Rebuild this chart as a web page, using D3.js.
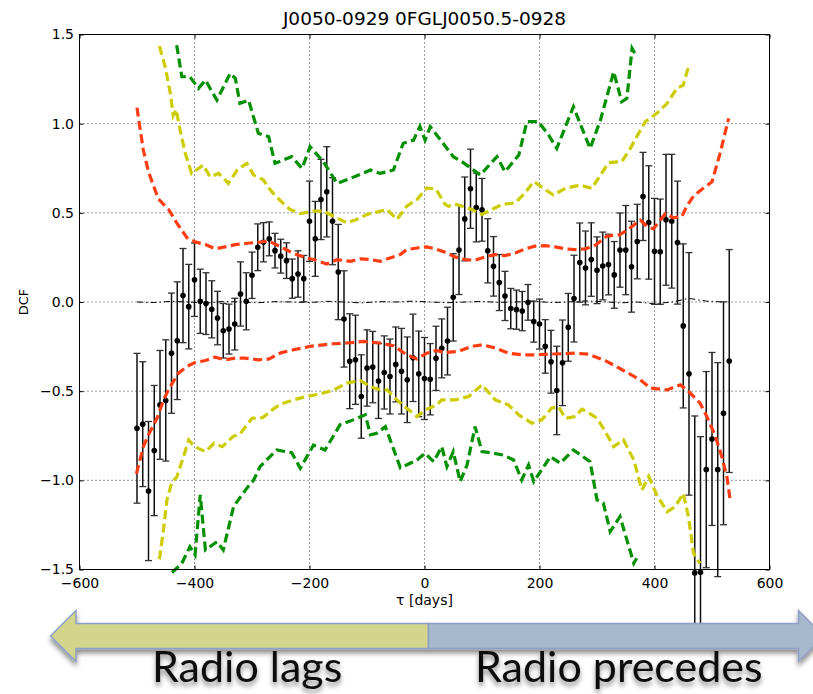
<!DOCTYPE html>
<html>
<head>
<meta charset="utf-8">
<script src="https://cdn.jsdelivr.net/npm/d3@7"></script>
<style>
  body { margin: 0; background: #fff; }
  svg { display: block; }
</style>
</head>
<body>
<svg id="chart" width="813" height="694"></svg>
<script>
// ---- Discrete correlation function: lag (days), DCF value, 1-sigma error ----
const lags = [-500,-490,-480,-470,-460,-450,-440,-430,-420,-410,-400,-390,-380,-370,-360,-350,-340,-330,-320,-310,
  -300,-290,-280,-270,-260,-250,-240,-230,-220,-210,-200,-190,-180,-170,-160,-150,-140,-130,-120,-110,
  -100,-90,-80,-70,-60,-50,-40,-30,-20,-10,0,10,20,30,40,50,60,70,80,90,
  100,110,120,130,140,150,160,170,180,190,200,210,220,230,240,250,260,270,280,290,
  300,310,320,330,340,350,360,370,380,390,400,410,420,430,440,450,460,470,480,490,
  500,510,520,530];

const dcf = [-0.708,-0.685,-1.06,-0.833,-0.577,-0.552,-0.287,-0.217,0.036,-0.026,
  0.125,0.004,-0.009,-0.041,-0.09,-0.161,-0.152,-0.124,0.045,0.004,
  0.15,0.307,0.335,0.354,0.288,0.257,0.232,0.131,0.157,0.131,
  0.453,0.354,0.575,0.618,0.453,0.168,-0.095,-0.332,-0.324,-0.53,
  -0.37,-0.365,-0.443,-0.395,-0.418,-0.35,-0.388,-0.436,-0.313,-0.403,
  -0.429,-0.433,-0.316,-0.26,-0.219,0.026,0.292,0.466,0.635,0.53,
  0.517,0.287,0.2,0.109,0.034,-0.037,-0.043,-0.051,-0.002,-0.11,
  -0.124,-0.249,-0.335,-0.496,-0.341,-0.142,0.019,0.221,0.191,0.238,
  0.178,0.202,0.21,0.152,0.291,0.291,0.198,0.339,0.592,0.446,
  0.284,0.282,0.461,0.453,0.333,-0.134,-0.403,-1.519,-1.515,-0.94,
  -0.768,-0.94,-0.624,-0.331];

const dcfErr = [0.42,0.35,0.39,0.365,0.305,0.34,0.337,0.33,0.264,0.237,
  0.206,0.18,0.173,0.16,0.15,0.153,0.14,0.145,0.18,0.16,
  0.13,0.131,0.11,0.095,0.097,0.095,0.1,0.11,0.13,0.13,
  0.225,0.21,0.225,0.253,0.244,0.267,0.27,0.266,0.25,0.234,
  0.214,0.2,0.21,0.205,0.21,0.21,0.24,0.24,0.245,0.24,
  0.23,0.2,0.18,0.165,0.19,0.245,0.25,0.235,0.222,0.193,
  0.176,0.18,0.167,0.157,0.138,0.113,0.11,0.11,0.1,0.115,
  0.14,0.15,0.176,0.248,0.24,0.19,0.243,0.222,0.207,0.206,
  0.187,0.19,0.17,0.187,0.208,0.25,0.255,0.209,0.247,0.318,
  0.297,0.295,0.367,0.375,0.345,0.46,0.68,0.88,0.76,0.55,
  0.485,0.6,0.625,0.625];

// ---- Significance levels from simulated light curves: [lag, DCF] ----
const sig1Upper = [[-500,1.09],[-496,1.0],[-489,0.852],[-480,0.73],[-463,0.578],[-445,0.519],[-431,0.444],[-413,0.36],
  [-399,0.337],[-381,0.322],[-364,0.298],[-347,0.309],[-329,0.322],[-312,0.328],[-289,0.335],[-271,0.341],[-251,0.311],
  [-228,0.272],[-205,0.247],[-193,0.238],[-170,0.213],[-152,0.238],[-129,0.228],[-112,0.242],[-94,0.238],[-77,0.228],
  [-60,0.247],[-42,0.266],[-31,0.294],[-13,0.303],[4,0.309],[20,0.297],[36,0.279],[53,0.253],[71,0.238],[88,0.234],
  [106,0.253],[123,0.266],[140,0.26],[158,0.275],[175,0.298],[192,0.313],[210,0.316],[227,0.309],[245,0.298],[262,0.294],
  [280,0.298],[298,0.32],[317,0.369],[340,0.378],[358,0.416],[375,0.459],[387,0.425],[398,0.41],[419,0.496],[433,0.472],
  [448,0.481],[456,0.537],[468,0.594],[482,0.631],[500,0.674],[514,0.833],[529,1.03]];

const sig1Lower = [[-501,-0.964],[-489,-0.811],[-480,-0.745],[-465,-0.65],[-454,-0.55],[-445,-0.49],[-428,-0.399],
  [-413,-0.361],[-399,-0.339],[-381,-0.328],[-364,-0.309],[-347,-0.324],[-329,-0.315],[-312,-0.315],[-289,-0.324],
  [-271,-0.32],[-250,-0.285],[-228,-0.268],[-199,-0.249],[-176,-0.24],[-158,-0.234],[-135,-0.23],[-106,-0.221],
  [-77,-0.23],[-54,-0.245],[-31,-0.296],[-13,-0.32],[4,-0.287],[20,-0.272],[36,-0.283],[59,-0.277],[82,-0.249],
  [100,-0.24],[123,-0.258],[146,-0.287],[169,-0.296],[193,-0.296],[216,-0.292],[239,-0.29],[262,-0.287],[286,-0.293],
  [317,-0.333],[346,-0.384],[375,-0.436],[393,-0.483],[422,-0.493],[445,-0.464],[462,-0.51],[479,-0.566],[491,-0.642],
  [506,-0.754],[517,-0.867],[526,-0.98],[532,-1.12]];

const sig2Upper = [[-461,1.435],[-451,1.319],[-442,1.17],[-437,1.045],[-432,1.08],[-425,0.964],[-416,0.833],[-405,0.721],
  [-385,0.768],[-373,0.702],[-358,0.721],[-341,0.665],[-326,0.74],[-309,0.777],[-297,0.712],[-280,0.684],[-271,0.64],
  [-263,0.609],[-248,0.56],[-234,0.519],[-216,0.496],[-193,0.51],[-176,0.51],[-158,0.481],[-135,0.444],[-118,0.463],
  [-100,0.491],[-83,0.504],[-65,0.519],[-48,0.463],[-31,0.537],[-13,0.575],[4,0.64],[20,0.633],[36,0.547],[42,0.537],
  [53,0.55],[82,0.519],[100,0.491],[117,0.519],[135,0.547],[158,0.556],[175,0.612],[190,0.676],[207,0.637],[224,0.6],
  [245,0.637],[270,0.656],[291,0.637],[320,0.781],[343,0.787],[358,0.861],[369,0.927],[384,1.011],[404,1.058],
  [422,1.114],[439,1.198],[450,1.216],[459,1.319]];

const sig2Lower = [[-461,-1.443],[-454,-1.278],[-448,-1.11],[-439,-1.007],[-431,-0.983],[-420,-0.876],[-410,-0.774],
  [-400,-0.811],[-381,-0.839],[-366,-0.792],[-352,-0.811],[-333,-0.755],[-320,-0.736],[-300,-0.652],[-281,-0.648],
  [-265,-0.605],[-250,-0.572],[-228,-0.549],[-205,-0.53],[-181,-0.515],[-158,-0.493],[-135,-0.455],[-112,-0.44],
  [-94,-0.474],[-77,-0.493],[-65,-0.493],[-48,-0.549],[-31,-0.596],[-13,-0.642],[4,-0.601],[20,-0.58],[30,-0.549],
  [53,-0.549],[77,-0.53],[100,-0.464],[123,-0.549],[146,-0.577],[164,-0.633],[187,-0.68],[204,-0.661],[221,-0.596],
  [233,-0.586],[245,-0.652],[262,-0.642],[274,-0.601],[291,-0.633],[300,-0.652],[311,-0.708],[329,-0.811],[346,-0.773],
  [364,-0.886],[378,-1.054],[390,-0.979],[404,-1.082],[422,-1.176],[436,-1.148],[450,-1.073],[459,-1.204],[468,-1.41],
  [479,-1.466]];

const sig3Upper = [[-431,1.44],[-422,1.263],[-408,1.263],[-393,1.198],[-381,1.244],[-361,1.132],[-338,1.282],[-329,1.254],
  [-321,1.114],[-306,1.132],[-289,0.946],[-271,0.927],[-260,0.777],[-231,0.815],[-213,0.749],[-199,0.871],[-176,0.787],
  [-152,0.665],[-129,0.693],[-94,0.74],[-77,0.721],[-54,0.74],[-37,0.89],[-19,0.908],[-8,0.985],[1,0.908],[10,0.983],
  [30,0.9],[50,0.815],[65,0.787],[97,0.712],[126,0.815],[140,0.731],[164,0.824],[178,1.011],[198,1.011],[216,0.936],
  [230,0.861],[259,1.095],[288,0.861],[306,1.02],[329,1.291],[343,1.123],[352,1.142],[361,1.422],[369,1.375]];

const sig3Lower = [[-439,-1.517],[-422,-1.465],[-408,-1.372],[-399,-1.418],[-390,-1.082],[-381,-1.39],[-361,-1.344],
  [-350,-1.39],[-332,-1.147],[-309,-1.044],[-297,-0.998],[-286,-0.923],[-257,-0.83],[-231,-0.845],[-216,-0.932],
  [-193,-0.802],[-173,-0.83],[-147,-0.689],[-124,-0.661],[-103,-0.633],[-94,-0.745],[-83,-0.736],[-68,-0.699],
  [-42,-0.93],[-13,-0.886],[1,-0.848],[16,-0.895],[30,-0.811],[39,-0.923],[50,-0.839],[62,-1.007],[74,-0.914],
  [88,-0.699],[100,-0.839],[120,-0.848],[137,-0.858],[155,-0.886],[169,-0.998],[181,-0.914],[190,-1.007],[219,-0.867],
  [236,-0.904],[259,-0.83],[288,-0.895],[300,-1.11],[311,-1.128],[323,-1.287],[340,-1.203],[352,-1.334],[364,-1.465],
  [369,-1.437]];

// mean of the simulated DCFs
const simMean = [[-500,0.0],[-470,-0.003],[-440,0.004],[-410,0.0],[-380,-0.006],[-350,0.003],[-320,0.0],[-290,-0.004],
  [-260,0.002],[-230,0.0],[-200,-0.003],[-170,0.004],[-140,0.0],[-110,-0.005],[-80,0.002],[-50,0.0],[-20,0.005],[10,0.0],
  [40,-0.004],[70,0.0],[100,0.003],[130,-0.002],[160,0.0],[190,0.004],[220,-0.003],[250,0.0],[280,0.006],[310,0.002],
  [340,-0.005],[370,0.0],[400,-0.01],[430,0.0],[460,0.02],[490,0.005],[520,0.0]];

const xTicks = [-600,-400,-200,0,200,400,600];
const yTicks = [-1.5,-1.0,-0.5,0.0,0.5,1.0,1.5];
const titleText = "J0050-0929 0FGLJ0050.5-0928";
const xLabel = "τ [days]";
const yLabel = "DCF";
const leftArrowText = "Radio lags";
const rightArrowText = "Radio precedes";

// ---- Layout ----
const plot = { left: 79.5, right: 769.5, top: 34.5, bottom: 569.5 };
const x = d3.scaleLinear().domain([-600, 600]).range([plot.left, plot.right]);
const y = d3.scaleLinear().domain([-1.5, 1.5]).range([plot.bottom, plot.top]);
const mplFont = "'DejaVu Sans', 'Bitstream Vera Sans', sans-serif";

const svg = d3.select("#chart");
const defs = svg.append("defs");
defs.append("clipPath").attr("id", "figClip")
  .append("rect").attr("x", 0).attr("y", 0).attr("width", 813).attr("height", 623);
const shadow = defs.append("filter").attr("id", "dropShadow")
  .attr("x", "-10%").attr("y", "-30%").attr("width", "120%").attr("height", "180%");
shadow.append("feDropShadow").attr("dx", 0).attr("dy", 4).attr("stdDeviation", 2.5)
  .attr("flood-color", "#000").attr("flood-opacity", 0.45);

const fig = svg.append("g").attr("clip-path", "url(#figClip)");

// grid
const grid = fig.append("g").attr("stroke", "#000").attr("stroke-width", 0.8)
  .attr("stroke-dasharray", "1,3");
grid.selectAll("line.gx").data(xTicks.slice(1, -1)).join("line").attr("class", "gx")
  .attr("x1", d => x(d)).attr("x2", d => x(d)).attr("y1", plot.top).attr("y2", plot.bottom);
grid.selectAll("line.gy").data(yTicks.slice(1, -1)).join("line").attr("class", "gy")
  .attr("y1", d => y(d)).attr("y2", d => y(d)).attr("x1", plot.left).attr("x2", plot.right);

const line = d3.line().x(d => x(d[0])).y(d => y(d[1]));

// simulated mean
fig.append("path").datum(simMean).attr("d", line).attr("fill", "none")
  .attr("stroke", "#000").attr("stroke-width", 1).attr("stroke-dasharray", "6,3,1.5,3");

// error bars + points
const pts = lags.map((l, i) => ({ lag: l, v: dcf[i], e: dcfErr[i] }));
const eb = fig.append("g");
eb.selectAll("line.bar").data(pts).join("line").attr("class", "bar")
  .attr("x1", d => x(d.lag)).attr("x2", d => x(d.lag))
  .attr("y1", d => y(d.v + d.e)).attr("y2", d => y(d.v - d.e))
  .attr("stroke", "#111").attr("stroke-width", 1.5);
eb.selectAll("line.capT").data(pts).join("line").attr("class", "capT")
  .attr("x1", d => x(d.lag) - 3.5).attr("x2", d => x(d.lag) + 3.5)
  .attr("y1", d => y(d.v + d.e)).attr("y2", d => y(d.v + d.e))
  .attr("stroke", "#333").attr("stroke-width", 1.3);
eb.selectAll("line.capB").data(pts).join("line").attr("class", "capB")
  .attr("x1", d => x(d.lag) - 3.5).attr("x2", d => x(d.lag) + 3.5)
  .attr("y1", d => y(d.v - d.e)).attr("y2", d => y(d.v - d.e))
  .attr("stroke", "#333").attr("stroke-width", 1.3);
eb.selectAll("circle").data(pts).join("circle")
  .attr("cx", d => x(d.lag)).attr("cy", d => y(d.v)).attr("r", 2.8).attr("fill", "#000");

// significance contours
const levels = [
  { data: sig1Upper, color: "#ff3c12" }, { data: sig1Lower, color: "#ff3c12" },
  { data: sig2Upper, color: "#cccc00" }, { data: sig2Lower, color: "#cccc00" },
  { data: sig3Upper, color: "#009000" }, { data: sig3Lower, color: "#009000" }
];
fig.append("g").selectAll("path").data(levels).join("path")
  .attr("d", d => line(d.data)).attr("fill", "none")
  .attr("stroke", d => d.color).attr("stroke-width", 3.2)
  .attr("stroke-dasharray", "9,4.5");

// frame
svg.append("rect").attr("x", plot.left).attr("y", plot.top)
  .attr("width", plot.right - plot.left).attr("height", plot.bottom - plot.top)
  .attr("fill", "none").attr("stroke", "#000").attr("stroke-width", 1);

// axes (inward ticks on all sides)
function styleAxis(g) {
  g.select(".domain").remove();
  g.selectAll(".tick line").attr("stroke", "#000").attr("stroke-width", 1);
  g.selectAll(".tick text").attr("fill", "#000").style("font-family", mplFont).style("font-size", "14px");
}
svg.append("g").attr("transform", `translate(0,${plot.bottom})`)
  .call(d3.axisBottom(x).tickValues(xTicks).tickSize(-4).tickPadding(8.5).tickFormat(d3.format("d")))
  .call(styleAxis);
svg.append("g").attr("transform", `translate(0,${plot.top})`)
  .call(d3.axisTop(x).tickValues(xTicks).tickSize(-4).tickFormat(""))
  .call(styleAxis);
svg.append("g").attr("transform", `translate(${plot.left},0)`)
  .call(d3.axisLeft(y).tickValues(yTicks).tickSize(-4).tickPadding(5.5).tickFormat(d3.format(".1f")))
  .call(styleAxis);
svg.append("g").attr("transform", `translate(${plot.right},0)`)
  .call(d3.axisRight(y).tickValues(yTicks).tickSize(-4).tickFormat(""))
  .call(styleAxis);

// titles
svg.append("text").attr("x", (plot.left + plot.right) / 2).attr("y", 25)
  .attr("text-anchor", "middle").style("font-family", mplFont).style("font-size", "18.5px")
  .text(titleText);
svg.append("text").attr("x", (plot.left + plot.right) / 2).attr("y", 605)
  .attr("text-anchor", "middle").style("font-family", mplFont).style("font-size", "14px")
  .text(xLabel);
svg.append("text").attr("transform", `translate(27.5,${(plot.top + plot.bottom) / 2}) rotate(-90)`)
  .attr("text-anchor", "middle").style("font-family", mplFont).style("font-size", "13px")
  .text(yLabel);

// direction arrows
const arrows = svg.append("g").attr("filter", "url(#dropShadow)");
const midX = 428.5, shaftT = 623.5, shaftB = 648.5, headT = 610.5, headB = 661.5, midY = 636;
arrows.append("polygon")
  .attr("points", [[50.5, midY], [76, headT], [76, shaftT], [midX, shaftT], [midX, shaftB], [76, shaftB], [76, headB]].join(" "))
  .attr("fill", "#d3d58c").attr("stroke", "#8d9fc6").attr("stroke-width", 1.5);
arrows.append("polygon")
  .attr("points", [[midX, shaftT], [798.5, shaftT], [798.5, headT], [824, midY], [798.5, headB], [798.5, shaftB], [midX, shaftB]].join(" "))
  .attr("fill", "#a7b9cc").attr("stroke", "#8d9fc6").attr("stroke-width", 1.5);

const labels = svg.append("g").attr("filter", "url(#dropShadow)")
  .style("font-family", "Lato, 'Open Sans', sans-serif").style("font-size", "43px").attr("fill", "#111");
labels.append("text").attr("x", 152).attr("y", 682).text(leftArrowText);
labels.append("text").attr("x", 475).attr("y", 682).text(rightArrowText);
</script>
</body>
</html>
